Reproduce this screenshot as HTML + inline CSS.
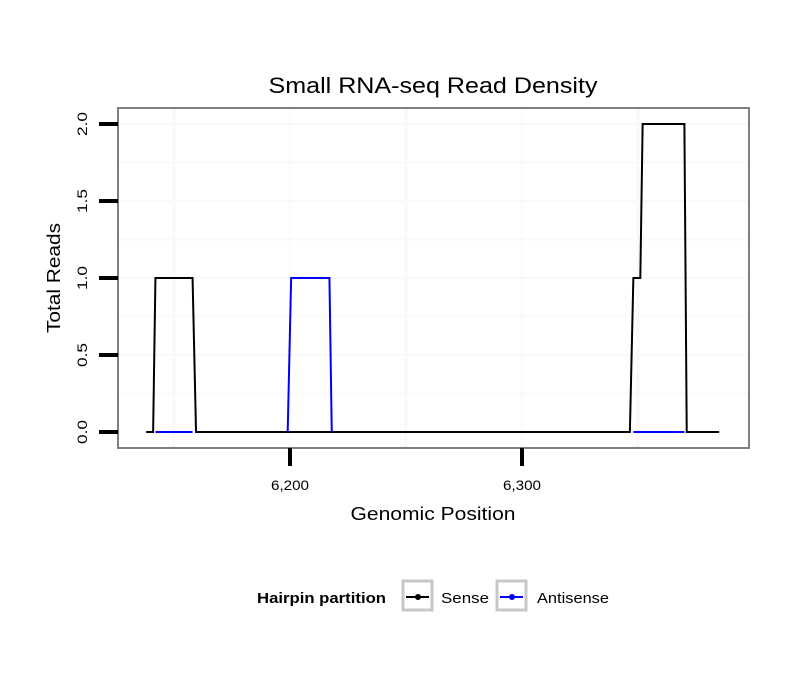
<!DOCTYPE html>
<html><head><meta charset="utf-8"><style>
body{margin:0;background:#fff;font-family:"Liberation Sans",sans-serif}
</style></head><body>
<svg id="c" width="810" height="690" xmlns="http://www.w3.org/2000/svg">
<rect width="810" height="690" fill="#fff"/>
<text x="433" y="93" font-size="22" text-anchor="middle" textLength="329" lengthAdjust="spacingAndGlyphs">Small RNA-seq Read Density</text>
<rect x="118" y="108" width="631" height="340" fill="#fff"/>
<g id="grid"></g>
<g id="series"></g>
<rect x="118" y="108" width="631" height="340" fill="none" stroke="#7f7f7f" stroke-width="2"/>
<g id="axes"></g>
<text x="433" y="520" font-size="18" text-anchor="middle" textLength="165" lengthAdjust="spacingAndGlyphs">Genomic Position</text>
<text transform="translate(60,278) rotate(-90)" font-size="18" text-anchor="middle" textLength="110" lengthAdjust="spacingAndGlyphs">Total Reads</text>
<g>
<text x="257" y="603" font-size="15" font-weight="bold" textLength="129" lengthAdjust="spacingAndGlyphs">Hairpin partition</text>
<g>
<rect x="403" y="581" width="29" height="29" fill="#fff" stroke="#c8c8c8" stroke-width="3"/>
<line x1="406" y1="597" x2="429" y2="597" stroke="#000" stroke-width="2"/><circle cx="418" cy="597" r="3" fill="#000"/>
<text x="441" y="603" font-size="15" textLength="48" lengthAdjust="spacingAndGlyphs">Sense</text></g>
<g>
<rect x="497" y="581" width="29" height="29" fill="#fff" stroke="#c8c8c8" stroke-width="3"/>
<line x1="500" y1="597" x2="523" y2="597" stroke="#00f" stroke-width="2"/><circle cx="512" cy="597" r="3" fill="#00f"/>
<text x="537" y="603" font-size="15" textLength="72" lengthAdjust="spacingAndGlyphs">Antisense</text></g>
</g>
</svg>
<script>
const senseX=[6138,6141,6142,6158,6159.5,6346.5,6348,6351,6352,6370,6371,6385];
const senseY=[0,0,1,1,0,0,1,1,2,2,0,0];
const antiX=[6142,6158,null,6199,6200.5,6217,6218,null,6348,6370];
const antiY=[0,0,null,0,1,1,0,null,0,0];
const xTicks=[6200,6300];
const xTickLabels=["6,200","6,300"];
const yTicks=[0,0.5,1,1.5,2];
const yTickLabels=["0.0","0.5","1.0","1.5","2.0"];
const xs=v=>290+(v-6200)*2.32;
const ys=v=>432-v*154;
const NS="http://www.w3.org/2000/svg";
function mk(t,a,p){const e=document.createElementNS(NS,t);for(const k in a)e.setAttribute(k,a[k]);p.appendChild(e);return e;}
const grid=document.getElementById('grid');
[6150,6250,6350].forEach(v=>{const l=mk('line',{x1:xs(v),x2:xs(v),y1:109,y2:447,stroke:'#f8f8f8','stroke-width':3},grid);

});
[6200,6300].forEach(v=>{const l=mk('line',{x1:xs(v),x2:xs(v),y1:109,y2:447,stroke:'#fbfbfb','stroke-width':2},grid);

});
[0.25,0.5,0.75,1,1.25,1.5,1.75,2].forEach(v=>{const l=mk('line',{x1:119,x2:748,y1:ys(v),y2:ys(v),stroke:'#f9f9f9','stroke-width':2},grid);

});
function path(X,Y){let d='',m=true;for(let i=0;i<X.length;i++){if(X[i]===null){m=true;continue;}d+=(m?'M':'L')+xs(X[i])+' '+ys(Y[i])+' ';m=false;}return d;}
const s=document.getElementById('series');
const p1=mk('path',{d:path(senseX,senseY),fill:'none',stroke:'#000','stroke-width':2},s);


const p2=mk('path',{d:path(antiX,antiY),fill:'none',stroke:'#00f','stroke-width':2},s);


const ax=document.getElementById('axes');
xTicks.forEach((v,i)=>{const l=mk('line',{x1:xs(v),x2:xs(v),y1:448,y2:466,stroke:'#000','stroke-width':4},ax);


const t=mk('text',{x:xs(v),y:490,'font-size':14,'text-anchor':'middle',textLength:38,lengthAdjust:'spacingAndGlyphs'},ax);t.textContent=xTickLabels[i];

});
yTicks.forEach((v,i)=>{const l=mk('line',{x1:99,x2:118,y1:ys(v),y2:ys(v),stroke:'#000','stroke-width':4},ax);


const t=mk('text',{transform:`translate(87,${ys(v)}) rotate(-90)`,'font-size':14,'text-anchor':'middle',textLength:24,lengthAdjust:'spacingAndGlyphs'},ax);t.textContent=yTickLabels[i];

});
</script>
</body></html>
